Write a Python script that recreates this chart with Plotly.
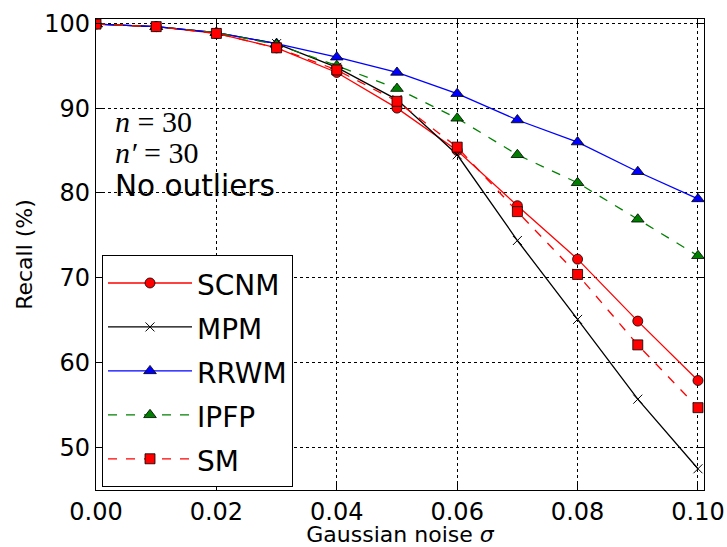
import plotly.graph_objects as go

sigma = [0.00, 0.01, 0.02, 0.03, 0.04, 0.05, 0.06, 0.07, 0.08, 0.09, 0.10]
scnm = [99.9, 99.6, 98.8, 97.1, 94.2, 90.0, 85.0, 78.5, 72.2, 64.9, 57.9]
mpm = [99.9, 99.6, 98.9, 97.6, 94.8, 91.0, 84.5, 74.4, 65.1, 55.7, 47.5]
rrwm = [99.9, 99.6, 98.9, 97.6, 96.0, 94.2, 91.7, 88.6, 86.0, 82.5, 79.3]
ipfp = [99.9, 99.6, 98.9, 97.5, 95.0, 92.3, 88.8, 84.5, 81.2, 76.9, 72.6]
sm = [99.9, 99.6, 98.8, 97.1, 94.5, 90.8, 85.4, 77.8, 70.4, 62.1, 54.7]

x_ticks = [0.00, 0.02, 0.04, 0.06, 0.08, 0.10]
x_ticklabels = ["0.00", "0.02", "0.04", "0.06", "0.08", "0.10"]
y_ticks = [50, 60, 70, 80, 90, 100]

series = [
    ("SCNM", scnm, "red", "solid", "circle", 10),
    ("MPM", mpm, "black", "solid", "x-thin", 9),
    ("RRWM", rrwm, "blue", "solid", "triangle-up", 11),
    ("IPFP", ipfp, "green", "dash", "triangle-up", 11),
    ("SM", sm, "red", "dash", "square", 10),
]

fig = go.Figure()
for name, vals, color, dash, sym, size in series:
    if sym == "x-thin":
        marker = dict(symbol=sym, size=size, color=color, line=dict(color=color, width=1))
    else:
        marker = dict(symbol=sym, size=size, color=color, line=dict(color="black", width=0.8))
    fig.add_trace(go.Scatter(
        x=sigma, y=vals, mode="lines+markers",
        name="<span style='font-size:28px'>" + name + "</span>",
        line=dict(color=color, width=1.3, dash=dash),
        marker=marker,
    ))

L, R, T, B = 96, 23, 19, 57
W, H = 727, 547
pw, ph = W - L - R, H - T - B

def px(xp):
    return (xp - L) / pw

def py(yp):
    return 1 - (yp - T) / ph

math_font = dict(size=30, color="black", family="Liberation Serif")
annots = [
    ("<i>n</i> = 30", 122, math_font),
    ("<i>n′</i> = 30", 153, math_font),
    ("No outliers", 186, dict(size=29.5, color="black", family="DejaVu Sans")),
]
for txt, ypx, f in annots:
    fig.add_annotation(
        x=px(113), y=py(ypx), xref="paper", yref="paper", text=txt, showarrow=False,
        xanchor="left", yanchor="middle", font=f,
    )

fig.update_layout(
    width=W, height=H,
    margin=dict(l=L, r=R, t=T, b=B),
    paper_bgcolor="white", plot_bgcolor="white",
    font=dict(family="DejaVu Sans", size=24, color="black"),
    legend=dict(
        x=px(102), y=py(487), xanchor="left", yanchor="bottom",
        bordercolor="black", borderwidth=1, bgcolor="white",
        font=dict(size=31.5), itemwidth=84,
    ),
    showlegend=True,
)
fig.update_xaxes(
    range=[0, 0.101], tickvals=x_ticks, ticktext=x_ticklabels,
    showgrid=True, gridcolor="black", griddash="dot", gridwidth=1,
    showline=True, linecolor="black", linewidth=1.2, mirror="ticks",
    ticks="inside", ticklen=6, tickcolor="black",
    zeroline=False, automargin=False,
    title=dict(text="Gaussian noise <i>σ</i>", font=dict(size=22), standoff=6),
)
fig.update_yaxes(
    range=[45, 100.5], tickvals=y_ticks,
    showgrid=True, gridcolor="black", griddash="dot", gridwidth=1,
    showline=True, linecolor="black", linewidth=1.2, mirror="ticks",
    ticks="inside", ticklen=6, tickcolor="black",
    zeroline=False, automargin=False,
    title=dict(text="Recall (%)", font=dict(size=22), standoff=5),
)
fig.write_html("out.html", post_script="document.body.style.margin='0';",
               config={"displayModeBar": False})
